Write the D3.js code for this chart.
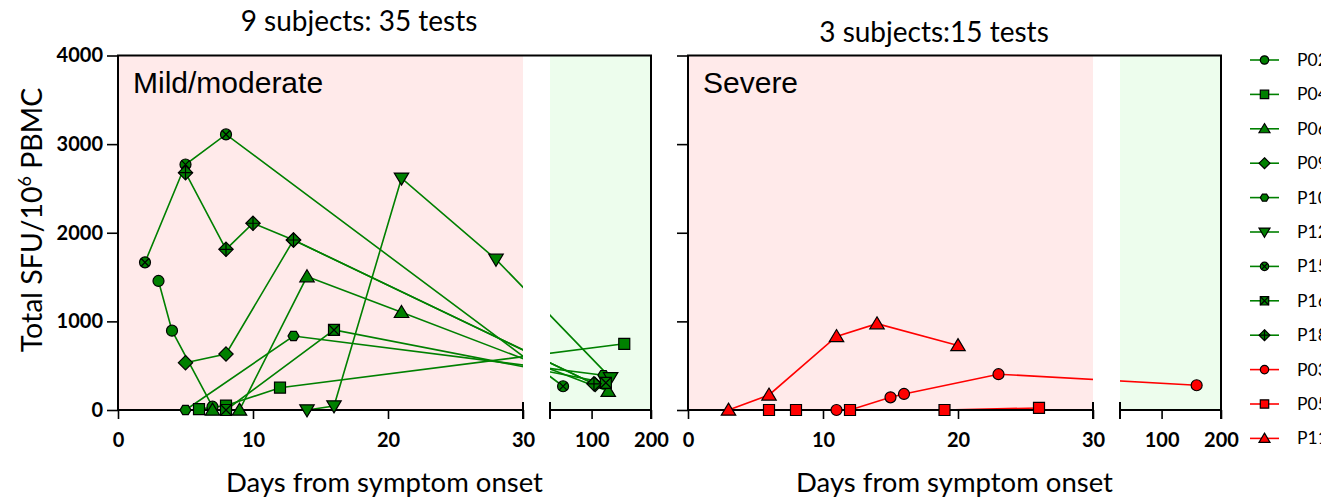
<!DOCTYPE html>
<html>
<head>
<meta charset="utf-8">
<script src="https://cdn.jsdelivr.net/npm/d3@7"></script>
<style>
body { margin: 0; background: #fff; }
svg { display: block; }
</style>
</head>
<body>
<svg></svg>
<script>
// mild/moderate group (green)
var mildNames = ['P02', 'P04', 'P06', 'P09', 'P10', 'P12', 'P15', 'P16', 'P18']
var mildShapes = ['circle', 'square', 'triangle', 'diamond', 'hexagon', 'triangleDown', 'circleX', 'squareX', 'diamondPlus']
var mildDays = [
	[3, 4, 7],
	[6, 8, 12, 155],
	[7, 9, 14, 21, 128],
	[5, 8, 13, 106],
	[5, 13, 120],
	[14, 16, 21, 28, 132],
	[2, 5, 8, 52],
	[8, 16, 124],
	[5, 8, 10, 13, 104]
]
var mildValues = [
	[1456, 895, 37],
	[10, 50, 252, 747],
	[0, 0, 1505, 1102, 212],
	[534, 632, 1918, 288],
	[0, 835, 393],
	[0, 45, 2615, 1700, 363],
	[1666, 2770, 3110, 268],
	[0, 903, 307],
	[2678, 1813, 2107, 1918, 295]
]

// severe group (red)
var severeNames = ['P03', 'P05', 'P11']
var severeShapes = ['circle', 'square', 'triangle']
var severeDays = [
	[11, 12, 15, 16, 23, 159],
	[6, 8, 12, 19, 26],
	[3, 6, 11, 14, 20]
]
var severeValues = [
	[0, 0, 143, 181, 404, 279],
	[0, 0, 0, 0, 23],
	[0, 170, 830, 974, 728]
]

var xTicksEarly = [0, 10, 20, 30]
var xTicksLate = [100, 200]
var yTicks = [0, 1000, 2000, 3000, 4000]

var green = '#008000'
var red = '#ff0000'
var pink = '#ffeaea'
var mint = '#edfded'

var width = 1321
var height = 499
var plotTop = 55.5
var plotBottom = 410

var svg = d3.select('svg').attr('width', width).attr('height', height)

var y = d3.scaleLinear().domain([0, 4000]).range([plotBottom, plotTop])

// marker outlines, centred on 0,0
function shapePath(shape, r) {
	var p = d3.path()
	if (shape === 'circle' || shape === 'circleX') {
		p.arc(0, 0, r, 0, Math.PI * 2)
	} else if (shape === 'square' || shape === 'squareX') {
		p.rect(-r, -r, r * 2, r * 2)
	} else if (shape === 'triangle') {
		var t = r * 1.25
		p.moveTo(0, -t); p.lineTo(t * 1.05, t * 0.75); p.lineTo(-t * 1.05, t * 0.75); p.closePath()
	} else if (shape === 'triangleDown') {
		var t = r * 1.25
		p.moveTo(0, t); p.lineTo(t * 1.05, -t * 0.75); p.lineTo(-t * 1.05, -t * 0.75); p.closePath()
	} else if (shape === 'diamond' || shape === 'diamondPlus') {
		var d = r * 1.3
		p.moveTo(0, -d); p.lineTo(d, 0); p.lineTo(0, d); p.lineTo(-d, 0); p.closePath()
	} else if (shape === 'hexagon') {
		var h = r * 0.85
		p.moveTo(-r, 0); p.lineTo(-r / 2, -h); p.lineTo(r / 2, -h); p.lineTo(r, 0); p.lineTo(r / 2, h); p.lineTo(-r / 2, h); p.closePath()
	}
	return p.toString()
}

// the cross or plus drawn inside some markers
function innerPath(shape, r) {
	var p = d3.path()
	if (shape === 'circleX') {
		var k = r * 0.7
		p.moveTo(-k, -k); p.lineTo(k, k); p.moveTo(k, -k); p.lineTo(-k, k)
	} else if (shape === 'squareX') {
		p.moveTo(-r, -r); p.lineTo(r, r); p.moveTo(r, -r); p.lineTo(-r, r)
	} else if (shape === 'diamondPlus') {
		var d = r * 1.3
		p.moveTo(0, -d); p.lineTo(0, d); p.moveTo(-d, 0); p.lineTo(d, 0)
	} else {
		return null
	}
	return p.toString()
}

function drawMarker(g, shape, r, fill, cx, cy) {
	var m = g.append('g').attr('transform', 'translate(' + cx + ',' + cy + ')')
	m.append('path').attr('d', shapePath(shape, r))
		.attr('fill', fill).attr('stroke', '#000').attr('stroke-width', 1.2)
	var inner = innerPath(shape, r)
	if (inner) m.append('path').attr('d', inner).attr('fill', 'none').attr('stroke', '#000').attr('stroke-width', 1.2)
}

function drawPanel(cfg) {
	var xEarly = d3.scaleLinear().domain([0, 30]).range([cfg.x0, cfg.breakX])
	var xLate = d3.scaleLinear().domain([30, 200]).range([cfg.lateX0, cfg.x1])
	var x = function(d) {return d <= 30 ? xEarly(d) : xLate(d)}

	var g = svg.append('g')

	// shaded backgrounds
	g.append('rect').attr('x', cfg.x0).attr('y', plotTop).attr('width', cfg.breakX - cfg.x0).attr('height', plotBottom - plotTop).attr('fill', pink)
	g.append('rect').attr('x', cfg.lateX0).attr('y', plotTop).attr('width', cfg.x1 - cfg.lateX0).attr('height', plotBottom - plotTop).attr('fill', mint)

	// lines are hidden inside the axis break
	var clip = svg.append('clipPath').attr('id', cfg.id + '-clip')
	clip.append('rect').attr('x', cfg.x0).attr('y', plotTop).attr('width', cfg.breakX - cfg.x0).attr('height', plotBottom - plotTop + 4)
	clip.append('rect').attr('x', cfg.lateX0).attr('y', plotTop).attr('width', cfg.x1 - cfg.lateX0).attr('height', plotBottom - plotTop + 4)

	var line = d3.line().x(function(p) {return x(p[0])}).y(function(p) {return y(p[1])})
	var lineGroup = g.append('g').attr('clip-path', 'url(#' + cfg.id + '-clip)')
	cfg.days.forEach(function(days, i) {
		var pts = days.map(function(d, j) {return [d, cfg.values[i][j]]})
		lineGroup.append('path').attr('d', line(pts))
			.attr('fill', 'none').attr('stroke', cfg.color).attr('stroke-width', 1.6)
	})

	// y axis
	var yAxis = g.append('g').attr('transform', 'translate(' + cfg.x0 + ',0)')
		.call(d3.axisLeft(y).tickValues(yTicks).tickSize(11).tickPadding(4)
			.tickFormat(cfg.yLabels ? d3.format('d') : function() {return ''}))
	yAxis.select('.domain').remove()

	// x axis, two segments
	var xa1 = g.append('g').attr('transform', 'translate(0,' + plotBottom + ')')
		.call(d3.axisBottom(xEarly).tickValues(xTicksEarly).tickSize(9).tickPadding(14))
	var xa2 = g.append('g').attr('transform', 'translate(0,' + plotBottom + ')')
		.call(d3.axisBottom(xLate).tickValues(xTicksLate).tickSize(9).tickPadding(14))
	xa1.select('.domain').remove()
	xa2.select('.domain').remove()
	g.selectAll('.tick line').attr('stroke-width', 1.6)
	g.selectAll('.tick text').attr('font-family', 'Lato, sans-serif').attr('font-weight', 'bold').attr('font-size', 20).attr('fill', '#000')

	// frame and break marks
	var frame = d3.path()
	frame.moveTo(cfg.x0, plotBottom); frame.lineTo(cfg.x0, plotTop); frame.lineTo(cfg.x1, plotTop); frame.lineTo(cfg.x1, plotBottom + 9)
	frame.moveTo(cfg.x0, plotBottom); frame.lineTo(cfg.breakX, plotBottom)
	frame.moveTo(cfg.lateX0, plotBottom); frame.lineTo(cfg.x1, plotBottom)
	frame.moveTo(cfg.breakX, plotBottom - 8); frame.lineTo(cfg.breakX, plotBottom + 9)
	frame.moveTo(cfg.lateX0, plotBottom - 8); frame.lineTo(cfg.lateX0, plotBottom + 9)
	g.append('path').attr('d', frame.toString()).attr('fill', 'none').attr('stroke', '#000').attr('stroke-width', 2)

	// markers on top
	var markGroup = g.append('g')
	cfg.days.forEach(function(days, i) {
		days.forEach(function(d, j) {
			drawMarker(markGroup, cfg.shapes[i], 5.5, cfg.color, x(d), y(cfg.values[i][j]))
		})
	})

	// texts
	g.append('text').attr('x', cfg.x0 + 15).attr('y', 93).text(cfg.label)
		.attr('font-family', 'Liberation Sans, Arial, sans-serif').attr('font-size', 30)
	g.append('text').attr('x', cfg.titleX).attr('y', cfg.titleY).attr('text-anchor', 'middle').text(cfg.title)
		.attr('font-family', 'Lato, sans-serif').attr('font-size', 28)
	g.append('text').attr('x', (cfg.x0 + cfg.x1) / 2).attr('y', 492).attr('text-anchor', 'middle').text('Days from symptom onset')
		.attr('font-family', 'Lato, sans-serif').attr('font-size', 27.5)
}

drawPanel({
	id: 'mild', x0: 118, breakX: 523, lateX0: 550, x1: 651,
	days: mildDays, values: mildValues, shapes: mildShapes, color: green,
	yLabels: true, label: 'Mild/moderate', title: '9 subjects: 35 tests', titleX: 359, titleY: 31
})
drawPanel({
	id: 'severe', x0: 688, breakX: 1093, lateX0: 1120, x1: 1221,
	days: severeDays, values: severeValues, shapes: severeShapes, color: red,
	yLabels: false, label: 'Severe', title: '3 subjects:15 tests', titleX: 934, titleY: 42
})

// y axis title
var yTitle = svg.append('text')
	.attr('transform', 'translate(42,220) rotate(-90)')
	.attr('text-anchor', 'middle')
	.attr('font-family', 'Lato, sans-serif').attr('font-size', 28.5)
yTitle.append('tspan').text('Total SFU/10')
yTitle.append('tspan').text('6').attr('font-size', 18).attr('dy', -11)
yTitle.append('tspan').text(' PBMC').attr('dy', 11)

// legend
var legendNames = mildNames.concat(severeNames)
var legendShapes = mildShapes.concat(severeShapes)
var legend = svg.append('g')
legendNames.forEach(function(name, i) {
	var ly = 60 + i * 34.4
	var c = i < mildNames.length ? green : red
	legend.append('line').attr('x1', 1250).attr('x2', 1279).attr('y1', ly).attr('y2', ly)
		.attr('stroke', c).attr('stroke-width', 1.6)
	drawMarker(legend, legendShapes[i], 4.2, c, 1264.5, ly)
	legend.append('text').attr('x', 1297).attr('y', ly + 6).text(name)
		.attr('font-family', 'Lato, sans-serif').attr('font-size', 17.5)
})
</script>
</body>
</html>
